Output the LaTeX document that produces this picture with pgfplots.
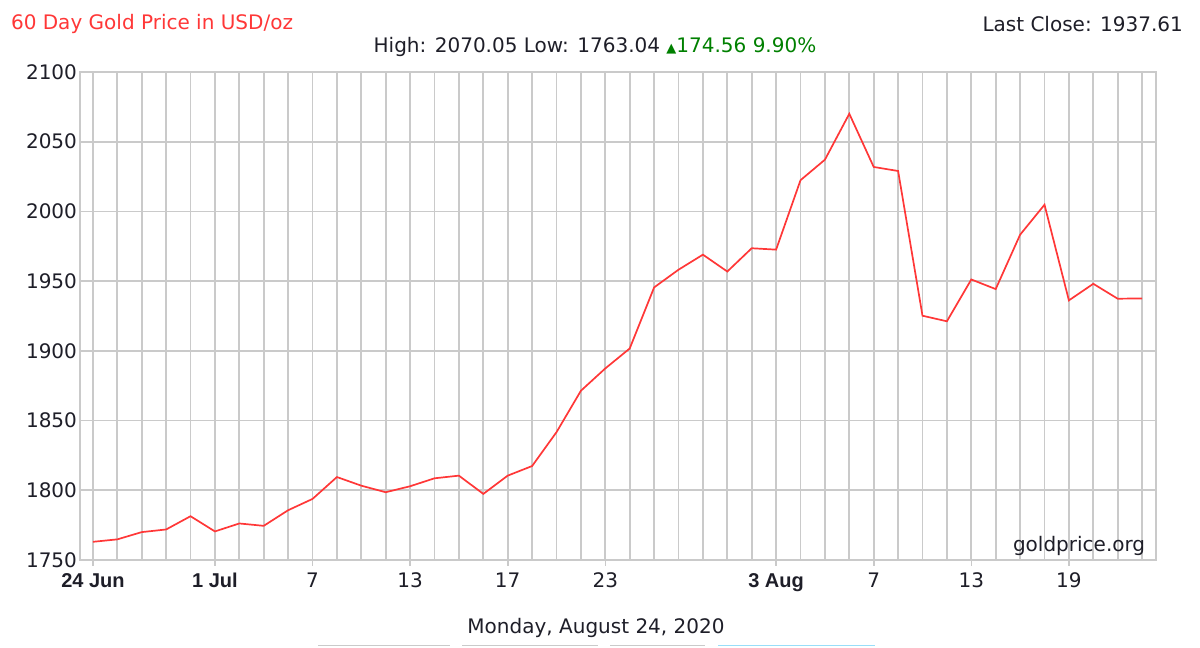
\documentclass[border=0pt]{standalone}
\usepackage{pgfplots}
\pgfplotsset{compat=1.18}
\usepackage{fontspec}
\setmainfont{DejaVu Sans}
\newfontfamily\labfont{Liberation Sans}
\newfontfamily\symfont{DejaVu Sans}
\definecolor{goldred}{RGB}{255,55,55}
\definecolor{gridgray}{RGB}{202,202,202}
\definecolor{txt}{RGB}{30,30,40}
\definecolor{upgreen}{RGB}{0,128,0}
\pgfplotstableread{
x y
0 1763.04
1 1764.8
2 1770.0
3 1771.9
4 1781.4
5 1770.5
6 1776.2
7 1774.5
8 1785.7
9 1793.8
10 1809.5
11 1803.3
12 1798.6
13 1802.9
14 1808.6
15 1810.5
16 1797.4
17 1810.5
18 1817.4
19 1841.7
20 1871.4
21 1887.4
22 1901.7
23 1945.5
24 1958.2
25 1969.0
26 1956.9
27 1973.6
28 1972.6
29 2022.4
30 2037.1
31 2070.05
32 2031.9
33 2029.0
34 1925.2
35 1921.2
36 1951.2
37 1944.3
38 1983.3
39 2004.8
40 1936.2
41 1948.1
42 1937.4
43 1937.61
}\gold
\begin{document}
\begin{tikzpicture}
\path[use as bounding box] (0,0) rectangle (600pt,324pt);
\begin{axis}[
  scale only axis, width=538pt, height=244pt,
  at={(40pt,44pt)}, anchor=south west,
  xmin=-0.53, xmax=43.57, ymin=1750, ymax=2100,
  ytick={1750,1800,...,2100},
  xtick={0,5,9,13,17,21,28,32,36,40},
  xticklabels={{\labfont\bfseries\fontsize{10}{11}\selectfont 24 Jun},{\labfont\bfseries\fontsize{10}{11}\selectfont 1 Jul},7,13,17,23,{\labfont\bfseries\fontsize{10}{11}\selectfont 3 Aug},7,13,19},
  minor xtick={0,...,43},
  xmajorgrids, xminorgrids, ymajorgrids,
  grid style={draw=gridgray, line width=0.9pt},
  minor grid style={draw=gridgray, line width=0.9pt},
  axis line style={draw=gridgray, line width=0.9pt},
  tick align=outside, major tick length=3pt, minor tick length=0pt,
  xtick pos=bottom, ytick pos=left,
  tick style={draw=gridgray, line width=0.8pt},
  ytick style={draw=none},
  /pgf/number format/1000 sep={},
  /pgf/number format/assume math mode=true,
  yticklabel style={font=\fontsize{10}{11}\selectfont, text=txt, xshift=5pt},
  xticklabel style={font=\fontsize{10}{11}\selectfont, text=txt},
]
\addplot[color=goldred, line width=0.85pt] table[x=x,y=y] {\gold};
\node[anchor=south east, font=\fontsize{10}{11}\selectfont, text=txt, inner sep=2pt] at (rel axis cs:0.994,0) {goldprice.org};
\end{axis}
\node[anchor=west, font=\fontsize{10}{11}\selectfont, text=goldred] at (2pt,312pt) {60 Day Gold Price in USD/oz};
\node[anchor=east, font=\fontsize{10}{11}\selectfont, text=txt] at (595pt,312pt) {Last Close: 1937.61};
\node[anchor=center, font=\fontsize{10}{11}\selectfont, text=txt] at (297.5pt,300.5pt) {High: 2070.05 Low: 1763.04 \textcolor{upgreen}{{\symfont\fontsize{6.5}{6}\selectfont ▲}174.56 9.90\%}};
\node[anchor=center, font=\fontsize{10}{11}\selectfont, text=txt] at (298pt,10pt) {Monday, August 24, 2020};
\draw[gridgray, line width=0.6pt] (159pt,1.2pt) -- (225pt,1.2pt);
\draw[gridgray, line width=0.6pt] (231pt,1.2pt) -- (299pt,1.2pt);
\draw[gridgray, line width=0.6pt] (305pt,1.2pt) -- (352.5pt,1.2pt);
\draw[cyan!40, line width=0.9pt] (359pt,1.2pt) -- (437.5pt,1.2pt);
\end{tikzpicture}
\end{document}
